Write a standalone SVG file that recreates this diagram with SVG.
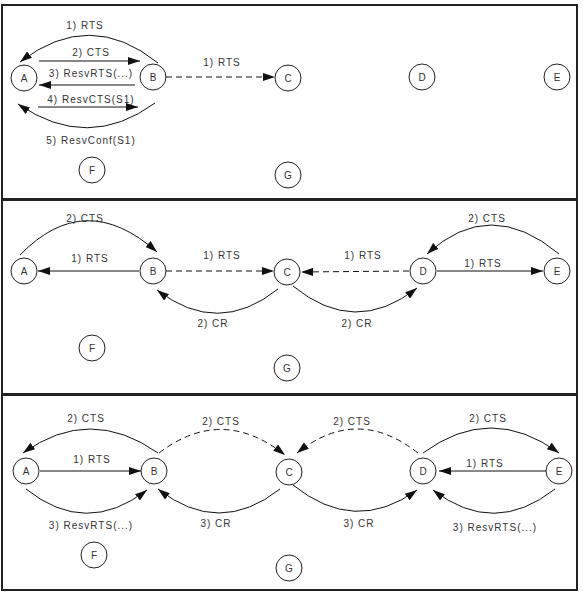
<svg xmlns="http://www.w3.org/2000/svg" width="583" height="595" viewBox="0 0 583 595">
<style>
.panel{fill:#fff;stroke:#222;stroke-width:2}
.node circle{fill:#fff;stroke:#222;stroke-width:1}
.node text{font-family:"Liberation Sans",Arial,sans-serif;font-size:10px;fill:#333;text-anchor:middle}
.lbl{font-family:"Liberation Sans",Arial,sans-serif;font-size:10px;fill:#333;text-anchor:middle;letter-spacing:1px}
.c{fill:none;stroke:#111;stroke-width:1;marker-end:url(#ah)}
.d{stroke-dasharray:6,4}
</style>
<defs>
<marker id="ah" markerUnits="userSpaceOnUse" markerWidth="12" markerHeight="8" refX="12" refY="4" orient="auto">
<path d="M0,0 L12,4 L0,8 z" fill="#111"/>
</marker>
</defs>
<rect class="panel" x="2" y="5" width="575" height="194"/>
<rect class="panel" x="2" y="200" width="575" height="194"/>
<rect class="panel" x="2" y="395" width="575" height="195"/>

<g id="connectors">
<!-- panel 1 -->
<path class="c" d="M158,63 Q90,8 20,62"/>
<path class="c" d="M39,61 L140,61"/>
<path class="c" d="M135,85 L39,85"/>
<path class="c" d="M38,107 L138,107"/>
<path class="c" d="M155,103 Q88,152 18,104"/>
<path class="c d" d="M166,77 L275,77"/>
<!-- panel 2 -->
<path class="c" d="M20,255 Q85,188 157,252"/>
<path class="c" d="M139,271 L38,271"/>
<path class="c d" d="M166,271 L274,271"/>
<path class="c" d="M278,289 Q218,337 157,290"/>
<path class="c d" d="M409,271 L301,272"/>
<path class="c" d="M293,286 Q355,337 417,288"/>
<path class="c" d="M437,271 L543,271"/>
<path class="c" d="M559,254 Q490,196 427,254"/>
<!-- panel 3 -->
<path class="c" d="M158,453 Q90,405 23,453"/>
<path class="c" d="M40,471 L141,471"/>
<path class="c" d="M26,489 Q86,537 147,490"/>
<path class="c d" d="M159,453 Q222,405 285,455"/>
<path class="c" d="M280,489 Q219,537 158,489"/>
<path class="c d" d="M418,453 Q357,405 297,453"/>
<path class="c" d="M293,485 Q355,535 417,490"/>
<path class="c" d="M423,453 Q491,403 559,453"/>
<path class="c" d="M546,471 L439,471"/>
<path class="c" d="M555,489 Q494,537 433,490"/>
</g>

<g id="labels">
<text class="lbl" x="85" y="29">1) RTS</text>
<text class="lbl" x="91" y="56">2) CTS</text>
<text class="lbl" x="91" y="77">3) ResvRTS(...)</text>
<text class="lbl" x="91" y="103">4) ResvCTS(S1)</text>
<text class="lbl" x="91" y="144">5) ResvConf(S1)</text>
<text class="lbl" x="222" y="66">1) RTS</text>

<text class="lbl" x="85" y="222">2) CTS</text>
<text class="lbl" x="90" y="262">1) RTS</text>
<text class="lbl" x="222" y="259">1) RTS</text>
<text class="lbl" x="213" y="327">2) CR</text>
<text class="lbl" x="363" y="259">1) RTS</text>
<text class="lbl" x="357" y="327">2) CR</text>
<text class="lbl" x="483" y="267">1) RTS</text>
<text class="lbl" x="487" y="222">2) CTS</text>

<text class="lbl" x="86" y="422">2) CTS</text>
<text class="lbl" x="92" y="463">1) RTS</text>
<text class="lbl" x="91" y="529">3) ResvRTS(...)</text>
<text class="lbl" x="221" y="425">2) CTS</text>
<text class="lbl" x="216" y="527">3) CR</text>
<text class="lbl" x="352" y="425">2) CTS</text>
<text class="lbl" x="359" y="527">3) CR</text>
<text class="lbl" x="488" y="422">2) CTS</text>
<text class="lbl" x="485" y="467">1) RTS</text>
<text class="lbl" x="495" y="531">3) ResvRTS(...)</text>
</g>

<!-- panel 1 nodes -->
<g id="p1-A" class="node"><circle cx="24" cy="78" r="13"/><text x="24" y="82">A</text></g>
<g id="p1-B" class="node"><circle cx="153" cy="77" r="13"/><text x="153" y="81">B</text></g>
<g id="p1-C" class="node"><circle cx="288" cy="78" r="13"/><text x="288" y="82">C</text></g>
<g id="p1-D" class="node"><circle cx="422" cy="77" r="13"/><text x="422" y="81">D</text></g>
<g id="p1-E" class="node"><circle cx="557" cy="77" r="13"/><text x="557" y="81">E</text></g>
<g id="p1-F" class="node"><circle cx="92" cy="170" r="13"/><text x="92" y="174">F</text></g>
<g id="p1-G" class="node"><circle cx="288" cy="175" r="13"/><text x="288" y="179">G</text></g>
<!-- panel 2 nodes -->
<g id="p2-A" class="node"><circle cx="24" cy="271" r="13"/><text x="24" y="275">A</text></g>
<g id="p2-B" class="node"><circle cx="153" cy="271" r="13"/><text x="153" y="275">B</text></g>
<g id="p2-C" class="node"><circle cx="287" cy="272" r="13"/><text x="287" y="276">C</text></g>
<g id="p2-D" class="node"><circle cx="423" cy="271" r="13"/><text x="423" y="275">D</text></g>
<g id="p2-E" class="node"><circle cx="557" cy="271" r="13"/><text x="557" y="275">E</text></g>
<g id="p2-F" class="node"><circle cx="92" cy="348" r="13"/><text x="92" y="352">F</text></g>
<g id="p2-G" class="node"><circle cx="287" cy="368" r="13"/><text x="287" y="372">G</text></g>
<!-- panel 3 nodes -->
<g id="p3-A" class="node"><circle cx="26" cy="471" r="13"/><text x="26" y="475">A</text></g>
<g id="p3-B" class="node"><circle cx="154" cy="471" r="13"/><text x="154" y="475">B</text></g>
<g id="p3-C" class="node"><circle cx="289" cy="472" r="13"/><text x="289" y="476">C</text></g>
<g id="p3-D" class="node"><circle cx="423" cy="471" r="13"/><text x="423" y="475">D</text></g>
<g id="p3-E" class="node"><circle cx="559" cy="471" r="13"/><text x="559" y="475">E</text></g>
<g id="p3-F" class="node"><circle cx="94" cy="555" r="13"/><text x="94" y="559">F</text></g>
<g id="p3-G" class="node"><circle cx="289" cy="568" r="13"/><text x="289" y="572">G</text></g>
</svg>
